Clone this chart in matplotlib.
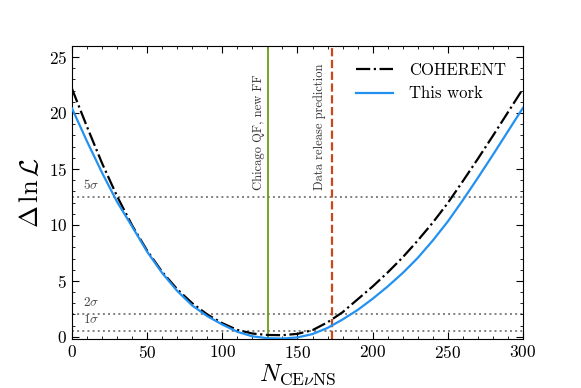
import numpy as np
import matplotlib
matplotlib.use('Agg')
import matplotlib.pyplot as plt
from matplotlib.ticker import MultipleLocator

plt.rcParams['font.family'] = 'serif'
plt.rcParams['font.serif'] = ['cmr10']
plt.rcParams['mathtext.fontset'] = 'cm'
plt.rcParams['axes.formatter.use_mathtext'] = True

# values
n_grid = [0, 10, 20, 30, 40, 50, 60, 70, 80, 90, 100, 110, 120, 130, 140, 150,
          160, 170, 180, 190, 200, 210, 220, 230, 240, 250, 260, 270, 280, 290, 300]
coherent = [22.15, 18.75, 15.5, 12.55, 9.95, 7.7, 5.8, 4.25, 3.0, 2.0, 1.22, 0.62,
            0.3, 0.17, 0.15, 0.27, 0.6, 1.3, 2.2, 3.35, 4.5, 5.75, 7.1, 8.6,
            10.2, 11.95, 13.9, 15.9, 17.95, 20.05, 22.15]
this_work = [20.4, 17.45, 14.65, 12.05, 9.85, 7.6, 5.7, 4.1, 2.8, 1.85, 1.1, 0.45,
             0.05, -0.12, -0.15, -0.05, 0.25, 0.8, 1.55, 2.4, 3.4, 4.5, 5.7,
             7.05, 8.6, 10.3, 12.2, 14.2, 16.25, 18.35, 20.45]

sigma_levels = [0.5, 2.0, 12.5]
sigma_labels = [r'$1\sigma$', r'$2\sigma$', r'$5\sigma$']

chicago_n = 130.7
release_n = 173.0

fig = plt.figure(figsize=(5.81, 3.88), dpi=100)
ax = fig.add_axes([0.124, 0.126, 0.776, 0.756])

for lev, lab in zip(sigma_levels, sigma_labels):
    ax.axhline(lev, color='gray', ls=':', lw=1.4, zorder=1)
    ax.text(7, lev + 0.45, lab, fontsize=9.5, color='#444444', ha='left', va='bottom')

ax.axvline(chicago_n, color='#6a9f14', lw=1.3, zorder=2)
ax.axvline(release_n, color='#c9471a', lw=1.6, ls='--', zorder=2)
ax.text(chicago_n - 6.5, 13.1, 'Chicago QF, new FF', rotation=90, fontsize=9,
        ha='center', va='bottom', color='#333333')
ax.text(release_n - 8, 13.1, 'Data release prediction', rotation=90, fontsize=9,
        ha='center', va='bottom', color='#333333')

ax.plot(n_grid, coherent, 'k-.', lw=1.6, label='COHERENT', zorder=3)
ax.plot(n_grid, this_work, color='#2391f0', lw=1.6, label='This work', zorder=4)

ax.set_xlim(0, 300)
ax.set_ylim(-0.2, 26)
ax.xaxis.set_major_locator(MultipleLocator(50))
ax.xaxis.set_minor_locator(MultipleLocator(10))
ax.yaxis.set_major_locator(MultipleLocator(5))
ax.yaxis.set_minor_locator(MultipleLocator(1))
ax.tick_params(which='both', direction='in', top=True, right=True, labelsize=12.5)
ax.tick_params(which='major', length=5)
ax.tick_params(which='minor', length=2.5)

ax.set_xlabel(r'$N_{\mathrm{CE}\nu\mathrm{NS}}$', fontsize=18, labelpad=1)
ax.set_ylabel(r'$\Delta\,\ln\mathcal{L}$', fontsize=19, labelpad=4)

ax.legend(loc='upper right', frameon=False, fontsize=12, handlelength=2.2,
          handletextpad=1.0, borderaxespad=0.6)

fig.savefig('out.png', dpi=100)
